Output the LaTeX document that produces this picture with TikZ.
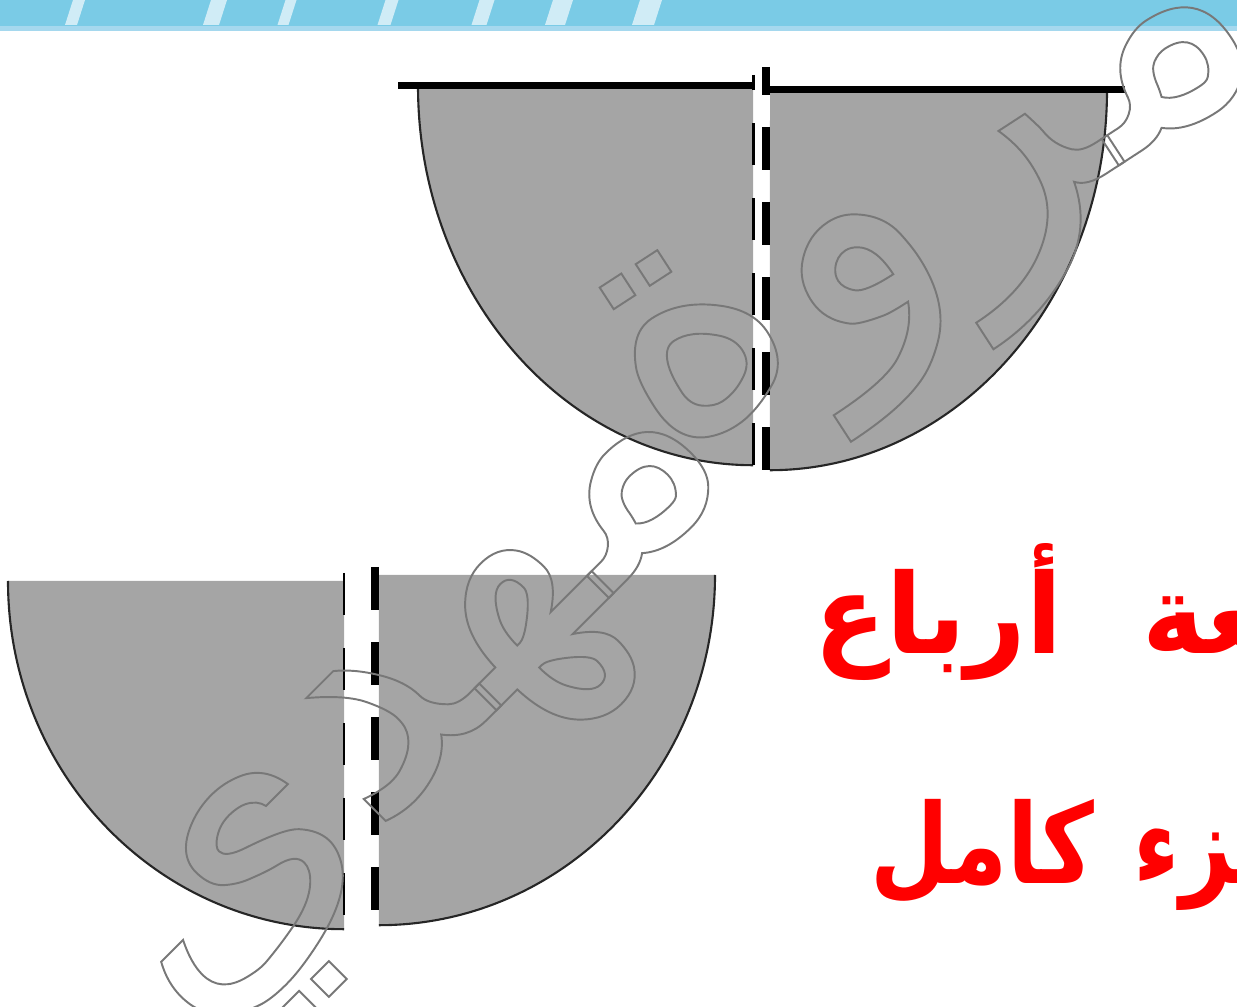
\documentclass[tikz,border=0pt]{standalone}
\usepackage{fontspec}
\TeXXeTstate=1
\newfontfamily\arabicfont[Script=Arabic]{DejaVu Sans}
\newcommand\outlinetxt[1]{\special{pdf:literal direct 1 Tr 0.55 w}#1\special{pdf:literal direct 0 Tr}}
\definecolor{bannerblue}{RGB}{122,203,230}
\definecolor{bannerlight}{RGB}{165,216,238}
\definecolor{quartergray}{RGB}{165,165,165}
\definecolor{wmgray}{RGB}{120,120,120}
\tikzset{
  quarter/.style={fill=quartergray, draw=none},
  rim/.style={draw=black!85, line width=0.6pt},
  topline/.style={draw=black, line width=1.75pt},
  thindash/.style={draw=black, line width=0.75pt, dash pattern=on 11.95pt off 9.39pt},
  thickdash/.style={draw=black, line width=2.2pt, dash pattern=on 12.23pt off 9.10pt},
  streak/.style={fill=white, opacity=0.65, draw=none},
  redtxt/.style={text=red, inner sep=0pt, font=\arabicfont\bfseries\fontsize{31.5}{31.5}\selectfont},
  watermark/.style={text=wmgray, inner sep=0pt}
}
\begin{document}
\begin{tikzpicture}[x=0.01cm, y=-0.01cm]
\useasboundingbox (0,0) rectangle (1237,1007);
% banner
\fill[bannerblue] (0,0) rectangle (1237,26);
\fill[bannerlight] (0,26) rectangle (1237,31);
\foreach \sx/\sw in {75/12, 215/16, 287/11, 388/13, 483/15, 559/20, 647/22}{
  \fill[streak] (\sx-\sw/2-4,25) -- (\sx+\sw/2-4,25) -- (\sx+\sw/2+4,0) -- (\sx-\sw/2+4,0) -- cycle;
}
% top quarters
\fill[quarter] (753,86) -- (418,86) arc[start angle=180, end angle=270, x radius=3.35cm, y radius=3.79cm] -- cycle;
\draw[rim] (418,86) arc[start angle=180, end angle=270, x radius=3.35cm, y radius=3.79cm];
\fill[quarter] (770,90) -- (1107,90) arc[start angle=0, end angle=-90, x radius=3.37cm, y radius=3.80cm] -- cycle;
\draw[rim] (1107,90) arc[start angle=0, end angle=-90, x radius=3.37cm, y radius=3.80cm];
\draw[topline] (398,85.5) -- (753,85.5);
\draw[topline] (770,89.5) -- (1125,89.5);
\draw[thindash, dash phase=7.68pt] (753.5,75) -- (753.5,467);
\draw[thickdash, dash phase=4.27pt] (766,67) -- (766,472);
% bottom quarters
\fill[quarter] (344,581) -- (8,581) arc[start angle=180, end angle=270, x radius=3.36cm, y radius=3.48cm] -- cycle;
\draw[rim] (8,581) arc[start angle=180, end angle=270, x radius=3.36cm, y radius=3.48cm];
\fill[quarter] (379,575) -- (715,575) arc[start angle=0, end angle=-90, x radius=3.36cm, y radius=3.50cm] -- cycle;
\draw[rim] (715,575) arc[start angle=0, end angle=-90, x radius=3.36cm, y radius=3.50cm];
\draw[thindash] (344,573) -- (344,917);
\draw[thickdash] (375,567) -- (375,910);
% watermark
\node[watermark, rotate=33, font=\arabicfont\fontsize{100}{100}\selectfont] (wm1) at (945,222) {\outlinetxt{\beginR مروة\endR}};
\node[watermark, rotate=45, font=\arabicfont\fontsize{98}{98}\selectfont] (wm2) at (440,725) {\outlinetxt{\beginR مهدي\endR}};
% red text
\node[redtxt, anchor=base east] (w1) at (1063,653) {\scalebox{0.95}[1]{\beginR أرباع\endR}};
\node[redtxt, anchor=base west] (w2) at (1142,653) {\scalebox{0.95}[1]{\beginR ‍عة\endR}};
\node[redtxt, anchor=base east] (w3) at (1095,883) {\scalebox{0.82}[1]{\beginR كامل\endR}};
\node[redtxt, anchor=base west] (w4) at (1133,883) {\scalebox{0.82}[1]{\beginR ‍زء\endR}};
\end{tikzpicture}
\end{document}
